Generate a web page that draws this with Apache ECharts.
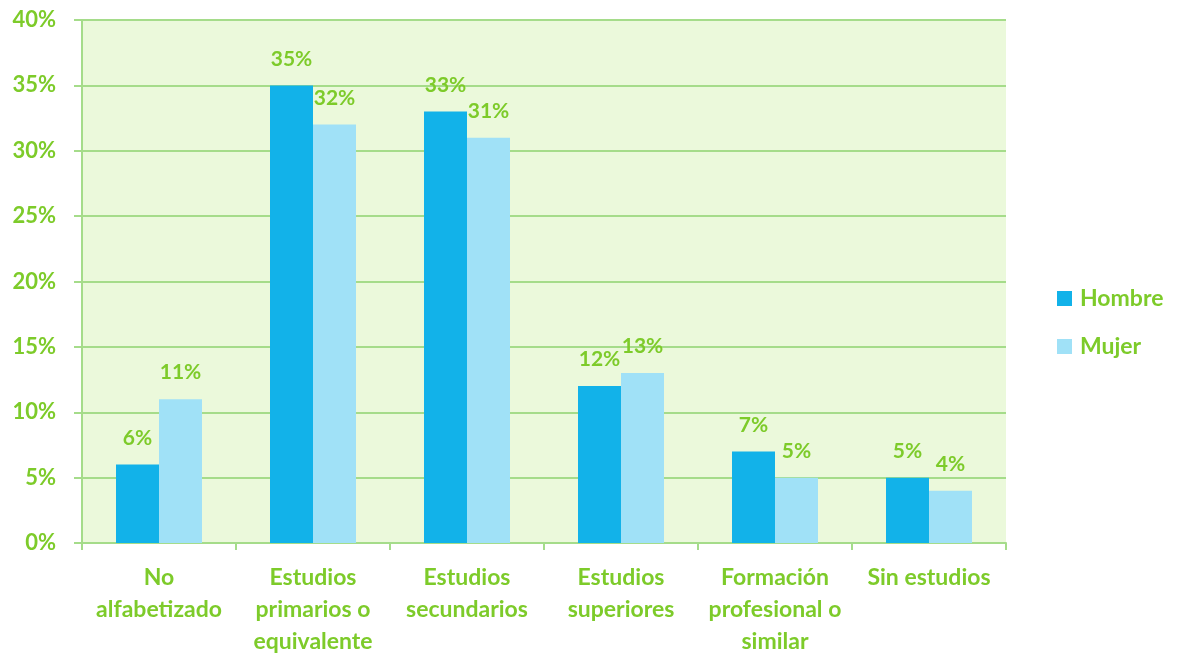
<!DOCTYPE html>
<html>
<head>
<meta charset="utf-8">
<script src="https://cdn.jsdelivr.net/npm/echarts@6/dist/echarts.min.js"></script>
<style>
  html, body { margin: 0; padding: 0; background: #fff; }
  #chart { width: 1178px; height: 657px; }
</style>
</head>
<body>
<div id="chart"></div>
<script>
// categorias (con saltos de linea como en el original)
var categories = [
  'No\nalfabetizado',
  'Estudios\nprimarios o\nequivalente',
  'Estudios\nsecundarios',
  'Estudios\nsuperiores',
  'Formación\nprofesional o\nsimilar',
  'Sin estudios'
]
var hombre = [6, 35, 33, 12, 7, 5]
var mujer = [11, 32, 31, 13, 5, 4]
var seriesNames = ['Hombre', 'Mujer']

var green = '#7DCB2A'
var font = 'Lato, "Open Sans", sans-serif'

var chart = echarts.init(document.getElementById('chart'))
var labelStyle = {
  show: true,
  position: 'top',
  distance: 16,
  color: green,
  fontFamily: font,
  fontWeight: 'bold',
  fontSize: 21,
  formatter: '{c}%'
}
var option = {
  animation: false,
  textStyle: { fontFamily: font },
  grid: {
    left: 82,
    right: 172,
    top: 20,
    bottom: 114,
    outerBoundsMode: 'none',
    show: true,
    backgroundColor: '#EBF9DB',
    borderWidth: 0
  },
  legend: {
    orient: 'vertical',
    left: 1057,
    top: 287,
    padding: 0,
    itemWidth: 15,
    itemHeight: 15,
    itemGap: 25,
    icon: 'rect',
    textStyle: { color: green, fontSize: 23, fontWeight: 'bold', fontFamily: font, padding: [0, 0, 0, 3] },
    data: seriesNames
  },
  xAxis: {
    type: 'category',
    data: categories,
    axisLine: { lineStyle: { color: '#A5DC8A', width: 2 } },
    axisTick: { show: true, length: 7, lineStyle: { color: '#A5DC8A', width: 2 } },
    axisLabel: {
      interval: 0,
      margin: 19,
      color: green,
      fontSize: 23,
      fontWeight: 'bold',
      lineHeight: 32,
      fontFamily: font
    }
  },
  yAxis: {
    type: 'value',
    min: 0,
    max: 40,
    interval: 5,
    axisLine: { show: true, lineStyle: { color: '#A5DC8A', width: 2 } },
    axisTick: { show: true, length: 8, lineStyle: { color: '#A5DC8A', width: 2 } },
    splitLine: { lineStyle: { color: '#A5DC8A', width: 2 } },
    axisLabel: {
      margin: 26,
      color: green,
      fontSize: 22,
      fontWeight: 'bold',
      fontFamily: font,
      formatter: '{value}%'
    }
  },
  series: [
    {
      name: seriesNames[0],
      type: 'bar',
      data: hombre,
      barWidth: 43,
      barGap: '0%',
      itemStyle: { color: '#12B2E9' },
      label: labelStyle
    },
    {
      name: seriesNames[1],
      type: 'bar',
      data: mujer,
      barWidth: 43,
      itemStyle: { color: '#A0E1F7' },
      label: labelStyle
    }
  ]
}
chart.setOption(option)
</script>
</body>
</html>
